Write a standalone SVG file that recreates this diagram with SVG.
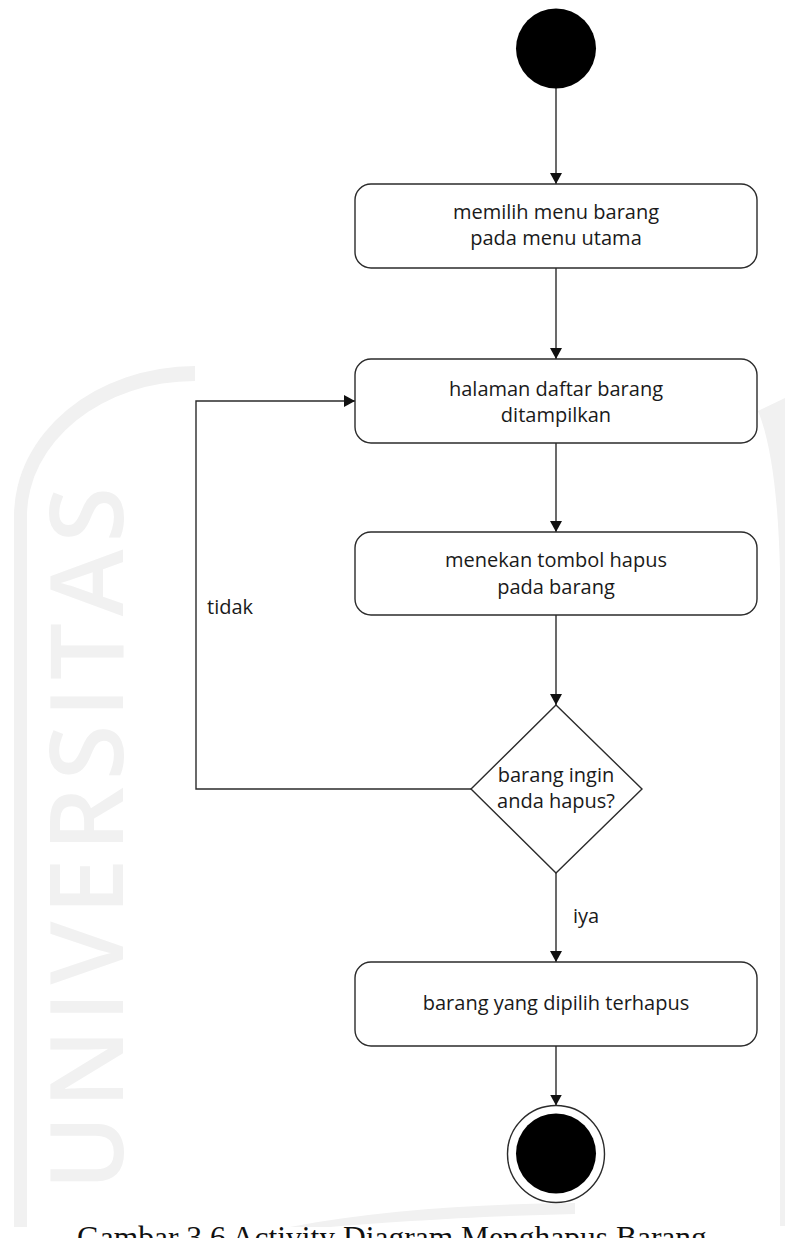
<svg xmlns="http://www.w3.org/2000/svg" width="785" height="1238" viewBox="0 0 785 1238">
  <style>
    .wm { fill: #f1f1f1; stroke: none; }
    .wmtext { font-family: "Open Sans", "Liberation Sans", sans-serif; font-size: 101px; font-weight: 600; fill: #f1f1f1; }
    .box { fill: #ffffff; stroke: #2b2b2b; stroke-width: 1.4; }
    .lbl { font-family: "Open Sans", "Noto Sans", "Liberation Sans", sans-serif; font-size: 20px; fill: #1a1a1a; }
    .mid { text-anchor: middle; }
    .edge { fill: none; stroke: #2b2b2b; stroke-width: 1.4; }
    .caption { font-family: "Liberation Serif", "Times New Roman", serif; font-size: 31.5px; fill: #111111; }
  </style>
  <defs>
    <marker id="arrow" viewBox="0 0 11 12" refX="11" refY="6" markerWidth="11" markerHeight="12" markerUnits="userSpaceOnUse" orient="auto">
      <path d="M0,0 L11,6 L0,12 Z" fill="#111111"/>
    </marker>
  </defs>

  <rect x="0" y="0" width="785" height="1238" fill="#ffffff"/>

  <!-- faint background emblem -->
  <g id="watermark">
    <path class="wm" d="M195,366 A181,150 0 0 0 14,516 L14,1227 L27,1227 L27,516 A168,135 0 0 1 195,381 Z"/>
    <path class="wm" d="M758,411 C770,440 778,490 780,570 L780,1226 L785,1226 L785,398 Z"/>
    <path class="wm" d="M290,1227 C380,1210 480,1204 575,1203 L575,1214 C480,1216 390,1222 330,1227 Z"/>
    <text class="wmtext" transform="translate(123,1190) rotate(-90)" textLength="703" lengthAdjust="spacing">UNIVERSITAS</text>
  </g>

  <!-- connectors -->
  <g id="connectors">
    <line class="edge" x1="556" y1="88" x2="556" y2="184" marker-end="url(#arrow)"/>
    <line class="edge" x1="556" y1="268" x2="556" y2="359" marker-end="url(#arrow)"/>
    <line class="edge" x1="556" y1="443" x2="556" y2="532" marker-end="url(#arrow)"/>
    <line class="edge" x1="556" y1="615" x2="556" y2="705" marker-end="url(#arrow)"/>
    <line class="edge" x1="556" y1="873" x2="556" y2="962" marker-end="url(#arrow)"/>
    <line class="edge" x1="556" y1="1046" x2="556" y2="1105.5" marker-end="url(#arrow)"/>
    <polyline class="edge" points="471,789 196,789 196,401 355,401" marker-end="url(#arrow)"/>
    <text class="lbl" x="207" y="614">tidak</text>
    <text class="lbl" x="573" y="923">iya</text>
  </g>

  <!-- activity nodes -->
  <g id="start">
    <circle cx="556" cy="48.5" r="40" fill="#000000"/>
  </g>

  <g id="pilih-menu">
    <rect class="box" x="355" y="184" width="402" height="84" rx="16" ry="16"/>
    <text class="lbl mid" x="556" y="219">memilih menu barang</text>
    <text class="lbl mid" x="556" y="245">pada menu utama</text>
  </g>

  <g id="daftar-barang">
    <rect class="box" x="355" y="359" width="402" height="84" rx="16" ry="16"/>
    <text class="lbl mid" x="556" y="395.5">halaman daftar barang</text>
    <text class="lbl mid" x="556" y="421.5">ditampilkan</text>
  </g>

  <g id="tombol-hapus">
    <rect class="box" x="355" y="532" width="402" height="83" rx="16" ry="16"/>
    <text class="lbl mid" x="556" y="567">menekan tombol hapus</text>
    <text class="lbl mid" x="556" y="594">pada barang</text>
  </g>

  <g id="keputusan">
    <polygon class="box" points="556,705 642,789 556,873 471,789"/>
    <text class="lbl mid" x="556" y="782">barang ingin</text>
    <text class="lbl mid" x="556" y="808">anda hapus?</text>
  </g>

  <g id="terhapus">
    <rect class="box" x="355" y="962" width="402" height="84" rx="16" ry="16"/>
    <text class="lbl mid" x="556" y="1010">barang yang dipilih terhapus</text>
  </g>

  <g id="end">
    <circle cx="556" cy="1154" r="48.5" fill="#ffffff" stroke="#2b2b2b" stroke-width="1.4"/>
    <circle cx="556" cy="1153.5" r="40" fill="#000000"/>
  </g>

  <text class="caption" x="77" y="1248">Gambar 3.6 Activity Diagram Menghapus Barang</text>
</svg>
